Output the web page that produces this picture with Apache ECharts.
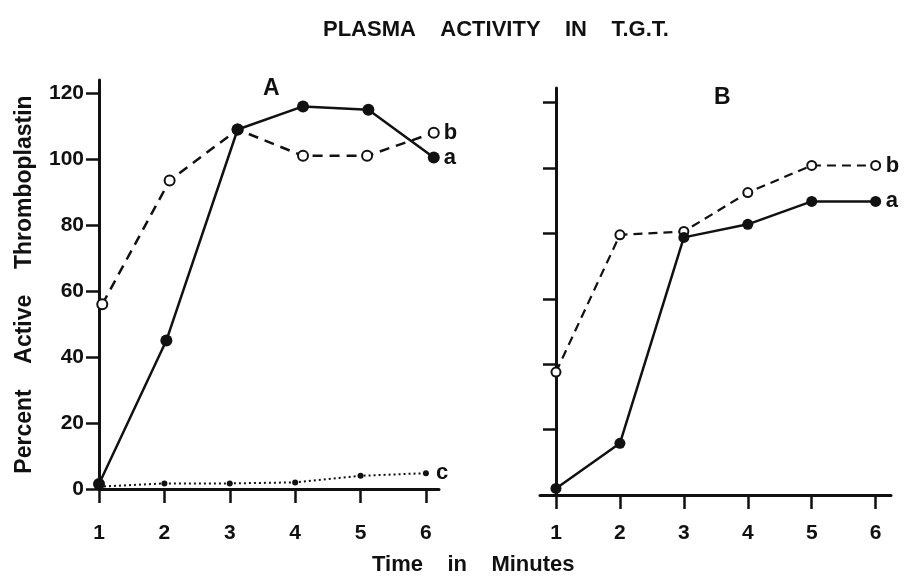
<!DOCTYPE html>
<html>
<head>
<meta charset="utf-8">
<script src="https://cdn.jsdelivr.net/npm/echarts@6/dist/echarts.min.js"></script>
<style>
html, body { margin: 0; padding: 0; background: #fff; }
#chart { width: 908px; height: 577px; }
</style>
</head>
<body>
<div id="chart"></div>
<script>
// time (minutes) and percent active thromboplastin
const timeA_a = [1, 2.03, 3.12, 4.12, 5.12, 6.12]
const valA_a = [1.5, 45, 109, 116, 115, 100.5]
const timeA_b = [1.05, 2.08, 3.12, 4.12, 5.1, 6.12]
const valA_b = [56, 93.5, 109, 101, 101, 108]
const timeA_c = [1, 2, 3, 4, 5, 6]
const valA_c = [0.7, 1.7, 1.7, 2, 4, 4.8]

const timeB = [1, 2, 3, 4, 5, 6]
const valB_a = [2, 15.8, 78.8, 82.8, 89.8, 89.8]
const valB_b = [37.6, 79.6, 80.6, 92.5, 100.8, 100.8]

const xTicks = [1, 2, 3, 4, 5, 6]
const yTicks = [0, 20, 40, 60, 80, 100, 120]

const FONT = '"Liberation Sans", Arial, sans-serif'
const INK = '#111'

const chart = echarts.init(document.getElementById('chart'))

function pairs(xs, ys) {
	return xs.map((x, i) => [x, ys[i]])
}

function xAxisFor(gridIndex, min, max, margin) {
	return {
		type: 'value',
		gridIndex: gridIndex,
		min: min,
		max: max,
		axisLine: { show: true, onZero: false, lineStyle: { color: INK, width: 3 } },
		axisTick: { show: true, customValues: xTicks, length: 14, lineStyle: { color: INK, width: 2.5 } },
		axisLabel: { customValues: xTicks, margin: margin, color: INK, fontFamily: FONT, fontWeight: 'bold', fontSize: 21 },
		splitLine: { show: false }
	}
}

function lineSeries(idx, data, label, opts) {
	return Object.assign({
		type: 'line',
		xAxisIndex: idx,
		yAxisIndex: idx,
		data: data,
		color: INK,
		endLabel: {
			show: true,
			formatter: label,
			color: INK,
			fontFamily: FONT,
			fontWeight: 'bold',
			fontSize: 22,
			distance: 10
		}
	}, opts)
}

chart.setOption({
	animation: false,
	backgroundColor: '#fff',
	title: {
		text: 'PLASMA    ACTIVITY    IN    T.G.T.',
		left: 318,
		top: 14,
		textStyle: { color: INK, fontFamily: FONT, fontWeight: 'bold', fontSize: 22 }
	},
	grid: [
		{ left: 99, top: 80, width: 340, height: 409 },
		{ left: 540, top: 88, width: 351, height: 407 }
	],
	xAxis: [
		xAxisFor(0, 1, 6.2, 34),
		xAxisFor(1, 0.75, 6.24, 28)
	],
	yAxis: [
		{
			type: 'value',
			gridIndex: 0,
			min: 0,
			max: 124,
			name: 'Percent    Active    Thromboplastin',
			nameLocation: 'middle',
			nameGap: 63,
			nameTextStyle: { color: INK, fontFamily: FONT, fontWeight: 'bold', fontSize: 23 },
			axisLine: { show: true, onZero: false, lineStyle: { color: INK, width: 3 } },
			axisTick: { show: true, customValues: yTicks, length: 13, lineStyle: { color: INK, width: 2.5 } },
			axisLabel: { customValues: yTicks, margin: 15, color: INK, fontFamily: FONT, fontWeight: 'bold', fontSize: 21 },
			splitLine: { show: false }
		},
		{
			type: 'value',
			gridIndex: 1,
			min: 0,
			max: 124.5,
			offset: -16,
			axisLine: { show: true, onZero: false, lineStyle: { color: INK, width: 3 } },
			axisTick: { show: true, customValues: yTicks.slice(1), length: 13, lineStyle: { color: INK, width: 2.5 } },
			axisLabel: { show: false },
			splitLine: { show: false }
		}
	],
	graphic: [
		{
			type: 'text', left: 372, top: 554,
			style: { text: 'Time    in    Minutes', fill: INK, font: 'bold 22px ' + FONT }
		},
		{
			type: 'text', left: 263, top: 77,
			style: { text: 'A', fill: INK, font: 'bold 23px ' + FONT }
		},
		{
			type: 'text', left: 714, top: 86,
			style: { text: 'B', fill: INK, font: 'bold 23px ' + FONT }
		}
	],
	series: [
		lineSeries(0, pairs(timeA_c, valA_c), 'c', {
			symbol: 'circle', symbolSize: 6,
			lineStyle: { color: INK, width: 2, type: [2, 3] },
			itemStyle: { color: INK }
		}),
		lineSeries(0, pairs(timeA_b, valA_b), 'b', {
			symbol: 'emptyCircle', symbolSize: 10,
			lineStyle: { color: INK, width: 2.5, type: [10, 7] },
			itemStyle: { color: INK, borderWidth: 2.5 }
		}),
		lineSeries(0, pairs(timeA_a, valA_a), 'a', {
			symbol: 'circle', symbolSize: 12,
			lineStyle: { color: INK, width: 2.5 },
			itemStyle: { color: INK }
		}),
		lineSeries(1, pairs(timeB, valB_b), 'b', {
			symbol: 'emptyCircle', symbolSize: 9,
			lineStyle: { color: INK, width: 2.2, type: [9, 6] },
			itemStyle: { color: INK, borderWidth: 2.5 }
		}),
		lineSeries(1, pairs(timeB, valB_a), 'a', {
			symbol: 'circle', symbolSize: 11,
			lineStyle: { color: INK, width: 2.5 },
			itemStyle: { color: INK }
		})
	]
})
</script>
</body>
</html>
